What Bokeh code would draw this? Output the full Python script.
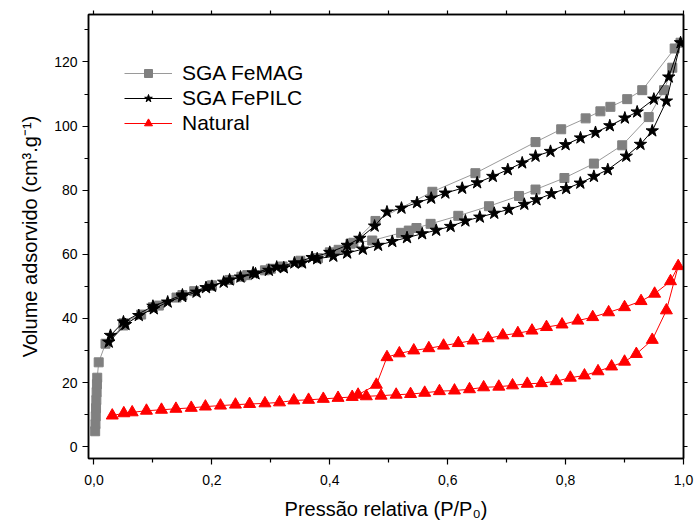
from bokeh.plotting import figure
from bokeh.models import (Range1d, LinearAxis, FixedTicker, CustomJSTickFormatter,
                          Legend, LegendItem)
from bokeh.embed import file_html
from bokeh.resources import INLINE

# ---------------- data ----------------
femag_ads_x = [0.002, 0.0025, 0.003, 0.0035, 0.004, 0.0045, 0.005, 0.0055, 0.008, 0.0195,
               0.05, 0.08, 0.11, 0.14, 0.17, 0.20, 0.23, 0.26, 0.29, 0.32, 0.35, 0.38,
               0.415, 0.435, 0.472, 0.521, 0.534, 0.547, 0.571, 0.618, 0.670, 0.721,
               0.749, 0.798, 0.848, 0.896, 0.941, 0.967, 0.981, 0.995]
femag_ads_y = [4.8, 7.0, 9.5, 12.0, 14.5, 17.0, 19.5, 21.5, 26.3, 32.1,
               37.8, 41.2, 44.0, 46.5, 48.5, 50.2, 52.0, 53.5, 55.0, 56.2, 57.5, 58.8,
               61.4, 63.3, 64.3, 66.7, 67.4, 68.2, 69.5, 72.0, 75.0, 78.2,
               80.2, 83.8, 88.3, 94.0, 102.8, 111.2, 118.2, 126.0]
femag_des_x = [0.985, 0.930, 0.9045, 0.876, 0.859, 0.834, 0.7925, 0.749, 0.647, 0.574,
               0.4775, 0.44, 0.40, 0.35, 0.30, 0.25, 0.20, 0.15, 0.10, 0.05]
femag_des_y = [124.2, 111.2, 108.4, 106.0, 104.6, 102.4, 99.0, 95.0, 85.3, 79.5,
               70.4, 63.6, 60.6, 58.0, 55.5, 53.0, 50.3, 47.3, 43.5, 38.5]

fepilc_ads_x = [0.025, 0.0535, 0.076, 0.1014, 0.125, 0.1496, 0.174, 0.20, 0.22, 0.2485,
                0.274, 0.2966, 0.322, 0.353, 0.3786, 0.406, 0.4295, 0.456, 0.482, 0.506,
                0.531, 0.5567, 0.5805, 0.605, 0.630, 0.6545, 0.679, 0.7036, 0.730, 0.7506,
                0.776, 0.801, 0.825, 0.848, 0.8716, 0.903, 0.927, 0.947, 0.971, 0.995]
fepilc_ads_y = [32.6, 38.1, 40.9, 43.0, 45.1, 46.8, 48.2, 50.0, 51.3, 52.9,
                53.9, 55.0, 55.8, 57.3, 58.6, 59.4, 60.4, 61.6, 62.8, 64.0,
                65.2, 66.4, 67.5, 68.7, 70.4, 71.6, 72.8, 74.0, 75.6, 77.0,
                78.9, 80.5, 82.2, 84.3, 86.4, 90.6, 94.3, 98.5, 107.8, 126.0]
fepilc_des_x = [0.975, 0.9497, 0.9214, 0.9005, 0.875, 0.8507, 0.8253, 0.800, 0.7744, 0.749,
                0.7264, 0.702, 0.6765, 0.650, 0.6246, 0.596, 0.572, 0.548, 0.5216, 0.497,
                0.476, 0.451, 0.4295, 0.40, 0.37, 0.34, 0.31, 0.27, 0.23, 0.19,
                0.15, 0.10, 0.05, 0.028]
fepilc_des_y = [115.3, 108.4, 104.4, 102.5, 100.1, 98.0, 96.3, 94.2, 92.1, 90.6,
                88.5, 86.4, 84.3, 82.3, 80.6, 79.1, 77.5, 76.1, 74.4, 73.2,
                68.8, 65.0, 62.8, 60.6, 59.0, 57.3, 56.0, 54.2, 52.0, 49.6,
                47.3, 43.8, 38.9, 34.7]

natural_ads_x = [0.031, 0.0506, 0.0648, 0.089, 0.1145, 0.139, 0.165, 0.189, 0.2146, 0.240,
                 0.264, 0.29, 0.3147, 0.339, 0.364, 0.389, 0.414, 0.438, 0.462, 0.487,
                 0.5126, 0.537, 0.561, 0.586, 0.6115, 0.637, 0.661, 0.6867, 0.710, 0.735,
                 0.759, 0.784, 0.808, 0.832, 0.855, 0.878, 0.900, 0.920, 0.947, 0.971, 0.991]
natural_ads_y = [9.7, 10.4, 10.7, 11.2, 11.5, 11.8, 12.1, 12.5, 12.8, 13.1,
                 13.3, 13.5, 13.8, 14.4, 14.6, 14.9, 15.2, 15.5, 15.7, 15.9,
                 16.2, 16.4, 16.8, 17.3, 17.5, 17.9, 18.5, 18.7, 19.1, 19.6,
                 19.8, 20.4, 21.5, 22.2, 23.5, 25.0, 26.5, 28.9, 33.3, 42.5, 56.3]
natural_des_x = [0.978, 0.951, 0.928, 0.900, 0.873, 0.846, 0.8207, 0.794, 0.7676, 0.743,
                 0.719, 0.6935, 0.6687, 0.643, 0.618, 0.593, 0.568, 0.5425, 0.518, 0.497,
                 0.479, 0.448]
natural_des_y = [51.6, 47.7, 45.4, 43.5, 41.9, 40.4, 39.3, 38.1, 37.3, 36.2,
                 35.4, 34.7, 33.8, 33.1, 32.3, 31.5, 30.7, 30.0, 29.1, 27.9,
                 19.3, 16.2]

x_major = [0.0, 0.2, 0.4, 0.6, 0.8, 1.0]
x_minor = [0.1, 0.3, 0.5, 0.7, 0.9]
y_major = [0, 20, 40, 60, 80, 100, 120]
y_minor = [10, 30, 50, 70, 90, 110, 130]

series_names = ["SGA FeMAG", "SGA FePILC", "Natural"]

FONT = "Liberation Sans"

# ---------------- figure ----------------
p = figure(width=694, height=523, output_backend="svg", toolbar_location=None,
           x_range=Range1d(-0.0093, 1.0), y_range=Range1d(-3.7, 134.8),
           min_border_left=88, min_border_right=11, min_border_top=14, min_border_bottom=65,
           x_axis_label="Pressão relativa (P/P₀)",
           y_axis_label="Volume adsorvido (cm³.g⁻¹)")
p.grid.visible = False
p.outline_line_color = "black"
p.outline_line_width = 1.5
p.background_fill_color = "white"
p.border_fill_color = "white"

fmt = CustomJSTickFormatter(code="return tick.toFixed(1).replace('.', ',');")

xa = p.xaxis[0]
xa.ticker = FixedTicker(ticks=x_major, minor_ticks=x_minor)
xa.formatter = fmt
ya = p.yaxis[0]
ya.ticker = FixedTicker(ticks=y_major, minor_ticks=y_minor)

for ax in (xa, ya):
    ax.axis_line_width = 1.5
    ax.major_tick_line_width = 1.2
    ax.minor_tick_line_width = 1.2
    ax.major_tick_in = 0
    ax.major_tick_out = 6
    ax.minor_tick_in = 0
    ax.minor_tick_out = 4
    ax.major_label_text_font = FONT
    ax.major_label_text_font_size = "14px"
    ax.major_label_text_color = "black"
    ax.axis_label_text_font = FONT
    ax.axis_label_text_font_size = "20px"
    ax.axis_label_text_font_style = "normal"
    ax.axis_label_text_color = "black"
xa.major_label_standoff = 10
xa.axis_label_standoff = 10
ya.major_label_standoff = 5
ya.axis_label_standoff = 10

top = LinearAxis(ticker=FixedTicker(ticks=x_major + x_minor), major_label_text_font_size="0px",
                 axis_line_width=1.5, major_tick_in=0, major_tick_out=4,
                 major_tick_line_width=1.2, minor_tick_line_color=None,
                 major_label_text_color=None)
right = LinearAxis(ticker=FixedTicker(ticks=y_major + y_minor), major_label_text_font_size="0px",
                   axis_line_width=1.5, major_tick_in=0, major_tick_out=4,
                   major_tick_line_width=1.2, minor_tick_line_color=None,
                   major_label_text_color=None)
p.add_layout(top, "above")
p.add_layout(right, "right")

# ---------------- series ----------------
def series(ads_x, ads_y, des_x, des_y, line_color, marker, fill, size):
    xs = ads_x + des_x
    ys = ads_y + des_y
    lr = p.line(xs, ys, line_color=line_color, line_width=1)
    sr = p.scatter(xs, ys, marker=marker, size=size, fill_color=fill, line_color=fill)
    return lr, sr

l1, s1 = series(femag_ads_x, femag_ads_y, femag_des_x, femag_des_y, "#9a9a9a", "square", "#808080", 9)
l2, s2 = series(fepilc_ads_x, fepilc_ads_y, fepilc_des_x, fepilc_des_y, "#000000", "star", "#000000", 13)
l3, s3 = series(natural_ads_x, natural_ads_y, natural_des_x, natural_des_y, "#ff0000", "triangle", "#ff0000", 12)

legend = Legend(items=[LegendItem(label=series_names[0], renderers=[l1, s1]),
                       LegendItem(label=series_names[1], renderers=[l2, s2]),
                       LegendItem(label=series_names[2], renderers=[l3, s3])],
                location=(36, 323), border_line_color=None, background_fill_alpha=0,
                padding=0, margin=0, spacing=1, glyph_width=48, glyph_height=20,
                label_height=20, label_standoff=10,
                label_text_font=FONT, label_text_font_size="21px", label_text_color="black")
p.add_layout(legend, "center")

open("out.html", "w").write(file_html(p, INLINE))
